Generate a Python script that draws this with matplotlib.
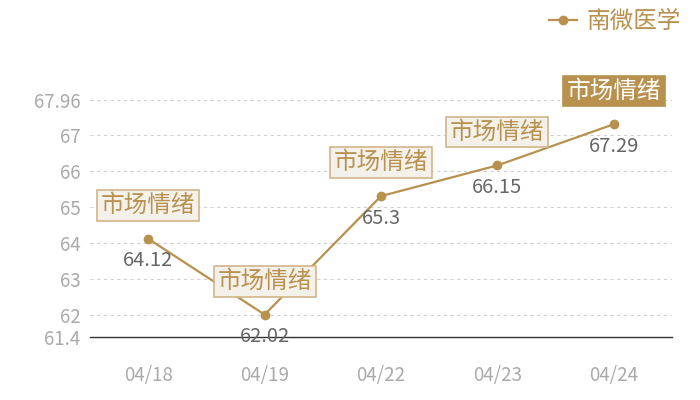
import matplotlib
matplotlib.use('Agg')
import matplotlib.pyplot as plt

plt.rcParams['font.family'] = ['Noto Sans CJK SC', 'DejaVu Sans']

dates = ['04/18', '04/19', '04/22', '04/23', '04/24']
values = [64.12, 62.02, 65.3, 66.15, 67.29]
series_name = '南微医学'
tag_text = '市场情绪'
y_ticks = [61.4, 62, 63, 64, 65, 66, 67, 67.96]
y_tick_labels = ['61.4', '62', '63', '64', '65', '66', '67', '67.96']

gold = '#b8914f'

fig = plt.figure(figsize=(7, 4), dpi=100)
ax = fig.add_axes([0.1286, 0.1575, 0.8314, 0.5925])

x = list(range(len(dates)))
line, = ax.plot(x, values, color=gold, linewidth=1.6, marker='o', markersize=6,
                label=series_name, zorder=3)

ax.set_xlim(-0.5, len(dates) - 0.5)
ax.set_ylim(61.4, 67.96)
ax.set_yticks(y_ticks)
ax.set_yticklabels(y_tick_labels)
ax.set_xticks(x)
ax.set_xticklabels(dates)
ax.tick_params(axis='both', length=0, labelsize=13.5, labelcolor='#aaaaaa')
ax.tick_params(axis='x', pad=20)
ax.tick_params(axis='y', pad=7)

for yv in y_ticks[1:]:
    ax.axhline(yv, color='#d0d0d0', linestyle=(0, (3, 3)), linewidth=0.8, zorder=1)

for s in ['top', 'right', 'left']:
    ax.spines[s].set_visible(False)
ax.spines['bottom'].set_color('#333333')
ax.spines['bottom'].set_linewidth(1)

for i, v in enumerate(values):
    ax.annotate(str(v), (i, v), xytext=(0, -16), textcoords='offset points',
                ha='center', va='center', fontsize=14.5, color='#666666', zorder=4)
    last = i == len(values) - 1
    ax.annotate(tag_text, (i, v), xytext=(0, 24), textcoords='offset points',
                ha='center', va='center', fontsize=17,
                color='white' if last else gold, zorder=5,
                bbox=dict(boxstyle='square,pad=0.16',
                          facecolor=gold if last else '#f4f0ea',
                          edgecolor=gold if last else '#d2b58a', linewidth=1.2))

fig.legend(handles=[line], loc='upper right', bbox_to_anchor=(0.99, 1.005),
           frameon=False, fontsize=17, handlelength=1.2, handletextpad=0.4,
           labelcolor=gold, borderaxespad=0.1)

fig.savefig('out.png', dpi=100)
